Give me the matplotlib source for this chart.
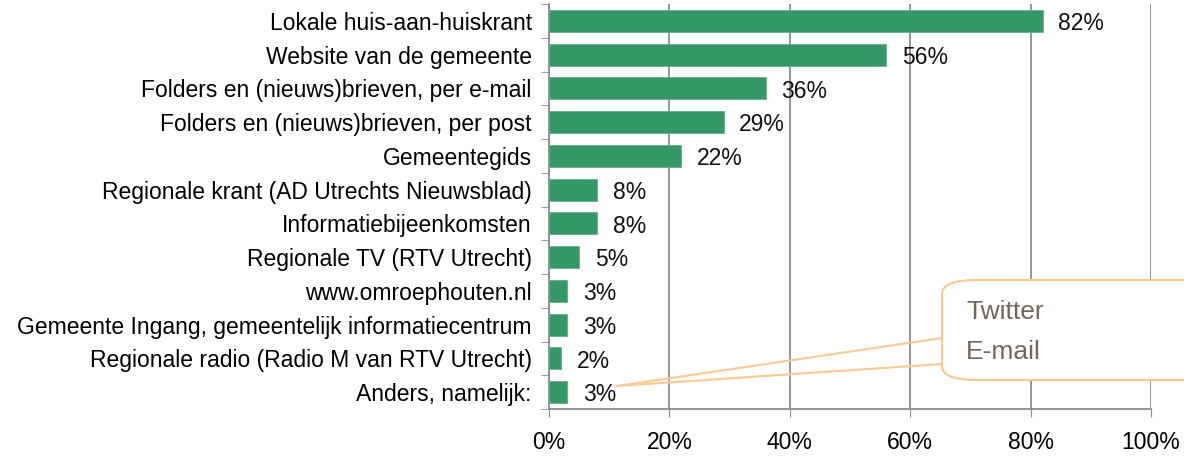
import matplotlib.pyplot as plt
from matplotlib.patches import FancyBboxPatch

plt.rcParams['font.family'] = ['Liberation Sans', 'DejaVu Sans']

categories = [
    'Lokale huis-aan-huiskrant',
    'Website van de gemeente',
    'Folders en (nieuws)brieven, per e-mail',
    'Folders en (nieuws)brieven, per post',
    'Gemeentegids',
    'Regionale krant (AD Utrechts Nieuwsblad)',
    'Informatiebijeenkomsten',
    'Regionale TV (RTV Utrecht)',
    'www.omroephouten.nl',
    'Gemeente Ingang, gemeentelijk informatiecentrum',
    'Regionale radio (Radio M van RTV Utrecht)',
    'Anders, namelijk:',
]
values = [82, 56, 36, 29, 22, 8, 8, 5, 3, 3, 2, 3]
xticks = [0, 20, 40, 60, 80, 100]
callout_lines = ['Twitter', 'E-mail']

green = '#339966'
grid = '#8c8c8c'
orange = '#fcc98e'
fs = 16.5

fig = plt.figure(figsize=(11.84, 4.57), dpi=100)
ax = fig.add_axes([549 / 1184, 48 / 457, 602 / 1184, 405 / 457])

ypos = list(range(len(categories)))[::-1]
ax.barh(ypos, values, height=0.65, color=green, edgecolor='#5fb38a', linewidth=0.6, zorder=3)
for y, v in zip(ypos, values):
    ax.text(v + 2.6, y - 0.08, f'{v}%', va='center', ha='left', fontsize=fs, color='#111111')

ax.set_xlim(0, 100)
ax.set_ylim(-0.5, len(categories) - 0.5)
ax.set_xticks(xticks)
ax.set_xticklabels([f'{t}%' for t in xticks], fontsize=fs)
ax.tick_params(axis='x', length=6, color=grid, pad=10)
ax.set_yticks(ypos)
ax.set_yticklabels(categories, fontsize=fs)
ax.tick_params(axis='y', length=0, pad=12.5)
ax.set_yticks([y + 0.5 for y in ypos] + [-0.5], minor=True)
ax.tick_params(axis='y', which='minor', length=6, color=grid)
ax.grid(axis='x', color=grid, linewidth=1.3, zorder=0)
for s in ['top', 'right']:
    ax.spines[s].set_visible(False)
ax.spines['left'].set_color(grid)
ax.spines['bottom'].set_color(grid)
ax.spines['left'].set_linewidth(1.3)
ax.spines['bottom'].set_linewidth(1.3)

# callout for "Anders"
box = FancyBboxPatch((942 / 1184, (457 - 380) / 457), 300 / 1184, 100 / 457,
                     boxstyle='round,pad=0,rounding_size=0.03', transform=fig.transFigure,
                     facecolor='white', edgecolor=orange, linewidth=1.5, zorder=5)
fig.add_artist(box)
for i, t in enumerate(callout_lines):
    fig.text(966 / 1184, (457 - 312 - i * 40) / 457, t, fontsize=19, color='#75665a',
             va='center', ha='left', zorder=6)
for yy in [338, 364]:
    fig.add_artist(plt.Line2D([617 / 1184, 942 / 1184], [(457 - 386) / 457, (457 - yy) / 457],
                              transform=fig.transFigure, color=orange, linewidth=1.5, zorder=5))

fig.savefig('out.png', dpi=100)
